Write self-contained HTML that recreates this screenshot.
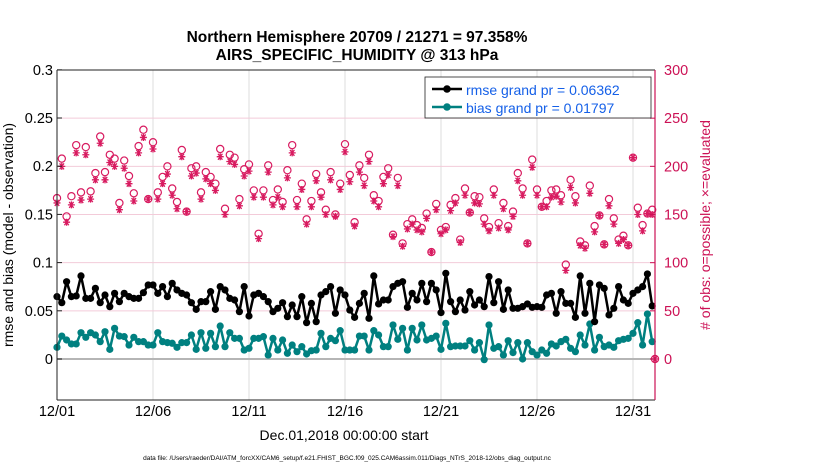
<!DOCTYPE html>
<html><head><meta charset="utf-8"><style>
body{margin:0;background:#fff;}
svg{font-family:"Liberation Sans",sans-serif;}
</style></head><body>
<svg id="chart" width="830" height="470" xmlns="http://www.w3.org/2000/svg">
<rect width="830" height="470" fill="#fff"/>
<text x="357" y="42" text-anchor="middle" font-size="15.5" font-weight="bold">Northern Hemisphere 20709 / 21271 = 97.358%</text>
<text x="357" y="60" text-anchor="middle" font-size="15.5" font-weight="bold">AIRS_SPECIFIC_HUMIDITY @ 313 hPa</text>
<g id="grid"></g>
<g id="marks"></g>
<g id="axes"></g>
<rect x="425" y="77" width="226" height="41" fill="#fff" stroke="#222" stroke-width="0.8"/>
<line x1="432" y1="89" x2="462" y2="89" stroke="#000" stroke-width="2.5"/>
<circle cx="447" cy="89" r="3.8" fill="#000"/>
<text x="466" y="95" font-size="14" fill="#1560e8">rmse grand pr = 0.06362</text>
<line x1="432" y1="107" x2="462" y2="107" stroke="#008080" stroke-width="2.5"/>
<circle cx="447" cy="107" r="3.8" fill="#008080"/>
<text x="466" y="113" font-size="14" fill="#1560e8">bias grand pr = 0.01797</text>
<text transform="translate(13,235) rotate(-90)" text-anchor="middle" font-size="14">rmse and bias (model - observation)</text>
<text transform="translate(710,225) rotate(-90)" text-anchor="middle" font-size="14" fill="#cc1155"># of obs: o=possible; ×=evaluated</text>
<text x="344" y="440" text-anchor="middle" font-size="14">Dec.01,2018 00:00:00 start</text>
<text x="347" y="460" text-anchor="middle" font-size="6.5">data file: /Users/raeder/DAI/ATM_forcXX/CAM6_setup/f.e21.FHIST_BGC.f09_025.CAM6assim.011/Diags_NTrS_2018-12/obs_diag_output.nc</text>
</svg>
<script>
const dayTicks = [0,5,10,15,20,25,30];
const dayTickLabels = ["12/01","12/06","12/11","12/16","12/21","12/26","12/31"];
const leftTicks = [0,0.05,0.1,0.15,0.2,0.25,0.3];
const leftTickLabels = ["0","0.05","0.1","0.15","0.2","0.25","0.3"];
const rightTicks = [0,50,100,150,200,250,300];
const rmse = [.0647,.0584,.0802,.0647,.0654,.0862,.0629,.0629,.0733,.0584,.0664,.0543,.0681,.0595,.0681,.0647,.0629,.0629,.0688,.0768,.0768,.0681,.0751,.0647,.0785,.0716,.0681,.0664,.0584,.0515,.0595,.0595,.0699,.0515,.0751,.0716,.0629,.0612,.0491,.0751,.0446,.0664,
.0681,.0647,.0595,.0491,.0526,.0584,.0439,.0560,.0439,.0647,.0377,.0577,.0387,.0664,.0699,.0751,.0474,.0716,.0664,.0508,.0432,.0577,.0681,.0422,.0862,.0571,.0612,.0612,.0751,.0785,.0802,.0536,.0681,.0612,.0785,.0595,.0785,.0716,.0481,.0889,.0595,.0491,.0612,
.0508,.0699,.0560,.0612,.0543,.0855,.0584,.0802,.0515,.0716,.0526,.0526,.0543,.0571,.0536,.0543,.0536,.0664,.0681,.0474,.0699,.0577,.0577,.0432,.0862,.0474,.0785,.0387,.0768,.0733,.0457,.0526,.0751,.0612,.0577,.0681,.0716,.0751,.0882,.0550];
const bias = [.0121,.0238,.0197,.0156,.0156,.0273,.0225,.0273,.0249,.0180,.0283,.0100,.0318,.0238,.0232,.0145,.0225,.0180,.0180,.0145,.0145,.0273,.0180,.0170,.0163,.0121,.0170,.0170,.0249,.0100,.0273,.0111,.0266,.0128,.0342,.0128,.0273,.0214,.0214,.0093,.0111,.0214,
.0214,.0232,.0041,.0214,.0093,.0197,.0059,.0145,.0076,.0128,.0052,.0086,.0093,.0266,.0128,.0214,.0190,.0294,.0093,.0093,.0093,.0238,.0238,.0093,.0294,.0249,.0128,.0128,.0353,.0204,.0318,.0093,.0318,.0197,.0353,.0197,.0214,.0238,.0100,.0370,.0128,.0135,.0135,
.0135,.0190,.0093,.0170,-.0007,.0353,.0111,.0128,.0041,.0190,.0066,.0170,.0000,.0170,.0076,.0041,.0093,.0059,.0156,.0135,.0180,.0204,.0111,.0076,.0249,.0145,.0363,.0093,.0225,.0128,.0145,.0121,.0190,.0204,.0214,.0266,.0377,.0145,.0467,.0180];
const possible = [167,208,148,169,222,173,220,174,193,231,194,212,208,162,206,190,172,221,238,166,225,173,189,200,177,163,217,153,198,200,173,194,189,182,218,156,212,209,166,197,202,175,
130,175,201,165,176,163,196,222,165,182,145,164,192,173,155,194,150,182,223,191,142,201,188,212,170,164,189,198,129,188,120,140,145,139,136,151,111,161,134,137,160,167,124,
177,152,169,168,146,137,176,141,162,138,153,193,177,120,207,176,158,164,175,176,170,98,186,169,122,118,180,138,149,119,166,146,124,128,118,209,157,139,151,155,0];
const evaluated = [162,200,142,160,214,165,212,166,186,224,186,204,200,155,198,182,164,214,230,166,218,166,182,192,170,156,210,153,190,193,166,187,182,175,210,150,205,202,159,190,195,168,
125,168,194,160,168,158,188,214,158,176,140,158,185,168,150,186,148,176,215,184,138,194,180,205,164,158,182,191,127,180,117,135,140,134,132,146,111,155,130,134,154,162,121,
170,152,162,161,140,133,170,136,156,134,148,185,170,120,199,170,158,158,168,169,163,92,178,162,118,115,172,132,149,119,159,140,120,124,118,209,150,133,151,150,0];
const NS="http://www.w3.org/2000/svg";
const L=57,R=655,T=70,B=400;
function xDay(d){return Math.min(R, L + d*19.2);}
function yL(v){return 359 - v*964;}
function yR(n){return 359 - n*0.9633;}
function xi(i){return xDay(i*0.25);}
function mk(tag,attrs,parent){const e=document.createElementNS(NS,tag);for(const k in attrs)e.setAttribute(k,attrs[k]);parent.appendChild(e);return e;}
const grid=document.getElementById('grid'),marks=document.getElementById('marks'),axes=document.getElementById('axes');
mk('rect',{x:L,y:T,width:R-L,height:B-T,fill:'#fff'},grid);
dayTicks.forEach((d,k)=>{
  const g=mk('line',{x1:xDay(d),x2:xDay(d),y1:T,y2:B,stroke:'#dcdcdc','stroke-width':1},grid);
  
  
  const t=mk('text',{x:xDay(d),y:416,'text-anchor':'middle','font-size':14.5},axes);
  t.textContent=dayTickLabels[k];
  
  
});
rightTicks.forEach(n=>{
  const g=mk('line',{x1:L,x2:R,y1:yR(n),y2:yR(n),stroke:'#f3cbd9','stroke-width':1},grid);
  
  
  mk('line',{x1:R-5,x2:R,y1:yR(n),y2:yR(n),stroke:'#cc1155'},axes);
  const t=mk('text',{x:664,y:yR(n)+5,'font-size':14.5,fill:'#cc1155'},axes);
  t.textContent=n;
  
  
});
const zl=mk('line',{x1:L,x2:R,y1:yL(0),y2:yL(0),stroke:'#b5b5b5','stroke-width':2},grid);


leftTicks.forEach((v,k)=>{
  mk('line',{x1:L,x2:L+5,y1:yL(v),y2:yL(v),stroke:'#222'},axes);
  const t=mk('text',{x:53,y:yL(v)+5,'text-anchor':'end','font-size':14.5},axes);
  t.textContent=leftTickLabels[k];
  
  
});
possible.forEach((n,i)=>{
  const x=xi(i);
  const c=mk('circle',{cx:x,cy:yR(n),r:3.6,fill:'none',stroke:'#d81b60','stroke-width':1.2},marks);
  
  
});
evaluated.forEach((n,i)=>{
  const x=xi(i),y=yR(n);
  const g=mk('path',{d:`M${x-3.5},${y}H${x+3.5}M${x-2.2},${y-3}L${x+2.2},${y+3}M${x+2.2},${y-3}L${x-2.2},${y+3}M${x},${y-3.5}V${y+3.5}`,stroke:'#d81b60','stroke-width':1.3},marks);
  
  
});
function series(arr,color,name){
  const p=mk('polyline',{points:arr.map((v,i)=>xi(i)+','+yL(v)).join(' '),fill:'none',stroke:color,'stroke-width':2.5,'stroke-linejoin':'round'},marks);
  
  
  arr.forEach((v,i)=>{
    const c=mk('circle',{cx:xi(i),cy:yL(v),r:3.6,fill:color},marks);
    
    
  });
}
series(bias,'#008080','bias');
series(rmse,'#000','rmse');
mk('line',{x1:L,x2:L,y1:T,y2:B,stroke:'#222','stroke-width':1},axes);
mk('line',{x1:L,x2:R,y1:T,y2:T,stroke:'#222','stroke-width':1},axes);
mk('line',{x1:L,x2:R,y1:B,y2:B,stroke:'#222','stroke-width':1},axes);
mk('line',{x1:R,x2:R,y1:T,y2:B,stroke:'#cc1155','stroke-width':1.2},axes);
</script>
</body></html>
